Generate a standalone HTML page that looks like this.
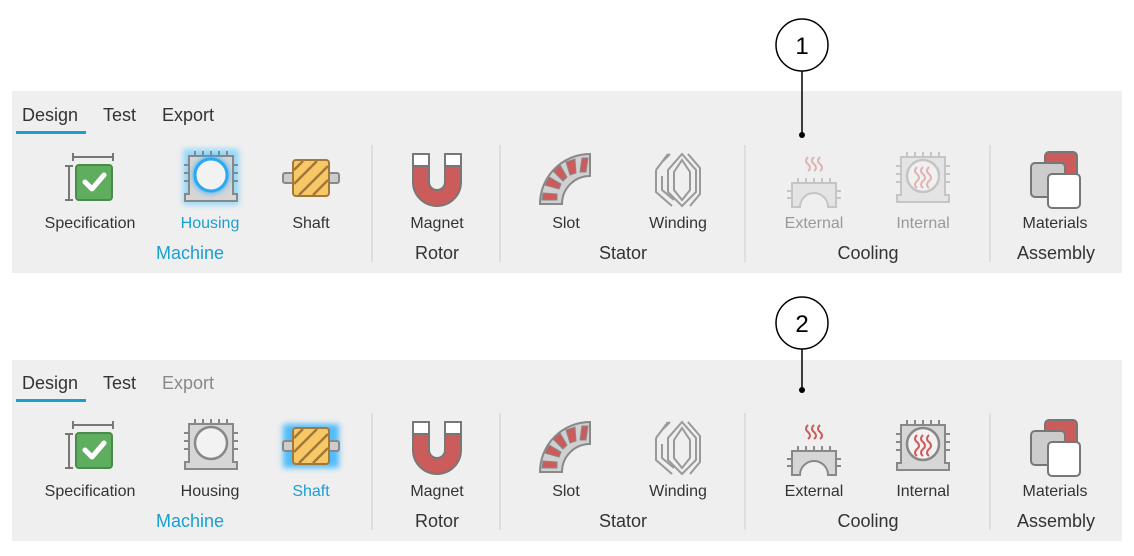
<!DOCTYPE html>
<html><head><meta charset="utf-8"><style>
html,body{margin:0;padding:0;background:#fff;}
svg{display:block;font-family:"Liberation Sans",sans-serif;}
</style></head><body>
<svg width="1134" height="556" viewBox="0 0 1134 556" xmlns="http://www.w3.org/2000/svg">
<defs>
<filter id="glow" x="-50%" y="-50%" width="200%" height="200%"><feGaussianBlur stdDeviation="3"/></filter>
<g id="spec">
  <line x1="-17" y1="-23" x2="23" y2="-23" stroke="#777" stroke-width="2"/>
  <line x1="-17" y1="-27" x2="-17" y2="-19" stroke="#777" stroke-width="2"/>
  <line x1="23" y1="-27" x2="23" y2="-19" stroke="#777" stroke-width="2"/>
  <line x1="-21" y1="-14" x2="-21" y2="20" stroke="#777" stroke-width="2"/>
  <line x1="-25" y1="-14" x2="-17" y2="-14" stroke="#777" stroke-width="2"/>
  <line x1="-25" y1="20" x2="-17" y2="20" stroke="#777" stroke-width="2"/>
  <rect x="-14" y="-15" width="36" height="35" rx="3" fill="#5fae5f" stroke="#4a8a4a" stroke-width="2"/>
  <path d="M-5 2 L2 9 L14 -5" fill="none" stroke="#fff" stroke-width="5" stroke-linecap="round" stroke-linejoin="round"/>
</g>
<g id="housingShape">
  <path d="M-22 -21 H22 V17 H26 V24 H-26 V17 H-22 Z" fill="#d6d6d6" stroke="#888" stroke-width="2"/>
  <g stroke="#888" stroke-width="2">
    <line x1="-16" y1="-21" x2="-16" y2="-26"/><line x1="-8" y1="-21" x2="-8" y2="-26"/><line x1="0" y1="-21" x2="0" y2="-26"/><line x1="8" y1="-21" x2="8" y2="-26"/><line x1="16" y1="-21" x2="16" y2="-26"/>
    <line x1="-22" y1="-12" x2="-27" y2="-12"/><line x1="-22" y1="-4" x2="-27" y2="-4"/><line x1="-22" y1="4" x2="-27" y2="4"/>
    <line x1="22" y1="-12" x2="27" y2="-12"/><line x1="22" y1="-4" x2="27" y2="-4"/><line x1="22" y1="4" x2="27" y2="4"/>
  </g>
</g>
<g id="housing">
  <use href="#housingShape"/>
  <circle cx="0" cy="-2" r="16" fill="#f2f2f2" stroke="#888" stroke-width="2.5"/>
</g>
<g id="shaft">
  <rect x="-28" y="-5" width="56" height="10" rx="2" fill="#ccc" stroke="#888" stroke-width="2"/>
  <rect x="-18" y="-18" width="36" height="36" rx="3" fill="#f8c866" stroke="#a07838" stroke-width="2"/>
  <g stroke="#a07838" stroke-width="2.5"><line x1="-17" y1="-8" x2="-8" y2="-17"/><line x1="-17" y1="6" x2="6" y2="-17"/><line x1="-12" y1="17" x2="17" y2="-12"/><line x1="2" y1="17" x2="17" y2="2"/></g>
</g>
<g id="magnet">
  <path d="M-24 -26 H-8 V2 A8 8 0 0 0 8 2 V-26 H24 V2 A24 24 0 0 1 -24 2 Z" fill="#cc5c5c" stroke="#777" stroke-width="2"/>
  <rect x="-24" y="-26" width="16" height="12" fill="#fff" stroke="#777" stroke-width="2"/>
  <rect x="8" y="-26" width="16" height="12" fill="#fff" stroke="#777" stroke-width="2"/>
</g>
<g id="slot">
  <path d="M-26 24 A50 50 0 0 1 24 -26 V-4 A28 28 0 0 0 -4 24 Z" fill="#d0d0d0" stroke="#888" stroke-width="2"/>
  <g fill="#cc5c5c" stroke="#888" stroke-width="1">
    <path d="M16 -22 L22 -22 L20 -8 L14 -8 Z"/><path d="M0 -18 L9 -21 L10 -7 L4 -5 Z"/><path d="M-13 -9 L-6 -15 L1 -3 L-3 1 Z"/><path d="M-21 5 L-17 -3 L-5 4 L-7 9 Z"/><path d="M-24 20 L-23 13 L-9 14 L-9 20 Z"/>
  </g>
</g>
<g id="winding" fill="none" stroke="#999" stroke-width="2">
  <path d="M-16 -18 L-8 -26 M-22 -10 L-10 -26 M-22 -10 V12 L-6 26 M-16 -4 V10 L-4 20"/>
  <path d="M4 -26 L18 -10 V12 L4 26 L-10 12 V-10 Z"/>
  <path d="M4 -20 L12 -8 V10 L4 20 L-4 10 V-8 Z"/>
  <path d="M10 -26 L22 -12 V14 L12 26"/>
</g>
<g id="external">
  <path d="M-22 0 H22 V24 H14 A14 14 0 0 0 -14 24 H-22 Z" fill="#d6d6d6" stroke="#888" stroke-width="2"/>
  <g stroke="#888" stroke-width="2"><line x1="-16" y1="0" x2="-16" y2="-5"/><line x1="-8" y1="0" x2="-8" y2="-5"/><line x1="0" y1="0" x2="0" y2="-5"/><line x1="8" y1="0" x2="8" y2="-5"/><line x1="16" y1="0" x2="16" y2="-5"/>
  <line x1="-22" y1="8" x2="-27" y2="8"/><line x1="-22" y1="15" x2="-27" y2="15"/><line x1="22" y1="8" x2="27" y2="8"/><line x1="22" y1="15" x2="27" y2="15"/></g>
  <g fill="none" stroke="#cc5c5c" stroke-width="2"><path d="M-6 -26 q-4 4 0 7 q4 4 0 7"/><path d="M0 -26 q-4 4 0 7 q4 4 0 7"/><path d="M6 -26 q-4 4 0 7 q4 4 0 7"/></g>
</g>
<g id="internal">
  <use href="#housingShape"/>
  <circle cx="0" cy="-2" r="16" fill="#f2f2f2" stroke="#888" stroke-width="2.5"/>
  <g fill="none" stroke="#cc5c5c" stroke-width="2"><path d="M-6 -11 q-4 4 0 7 q4 4 0 7 q-4 4 0 7"/><path d="M0 -11 q-4 4 0 7 q4 4 0 7 q-4 4 0 7"/><path d="M6 -11 q-4 4 0 7 q4 4 0 7 q-4 4 0 7"/></g>
</g>
<g id="materials">
  <rect x="-10" y="-28" width="32" height="36" rx="4" fill="#cc5c5c" stroke="#777" stroke-width="2"/>
  <rect x="-24" y="-17" width="34" height="34" rx="4" fill="#ccc" stroke="#777" stroke-width="2"/>
  <rect x="-7" y="-6" width="32" height="34" rx="4" fill="#fff" stroke="#777" stroke-width="2"/>
</g>
</defs>

<!-- Panel 1 -->
<g>
<rect x="12" y="91" width="1110" height="182" fill="#efefef"/>
<g font-size="18" fill="#333"><text x="22" y="121">Design</text><text x="103" y="121">Test</text><text x="162" y="121">Export</text></g>
<rect x="16" y="131" width="70" height="3" fill="#1a9fd0"/>
<g stroke="#ccc" stroke-width="1"><line x1="372" y1="145" x2="372" y2="262"/><line x1="500" y1="145" x2="500" y2="262"/><line x1="745" y1="145" x2="745" y2="262"/><line x1="990" y1="145" x2="990" y2="262"/></g>
<use href="#spec" x="90" y="180"/>
<g transform="translate(211,177)"><rect x="-28" y="-28" width="56" height="56" fill="#5ac8ff" filter="url(#glow)" opacity="0.6"/><use href="#housingShape"/><circle cx="0" cy="-2" r="18" fill="#2ab0ff" filter="url(#glow)"/><circle cx="0" cy="-2" r="16" fill="#f2f2f2" stroke="#2aa8f0" stroke-width="3"/></g>
<use href="#shaft" x="311" y="178"/>
<use href="#magnet" x="437" y="180"/>
<use href="#slot" x="566" y="180"/>
<use href="#winding" x="678" y="180"/>
<use href="#external" x="814" y="183" opacity="0.4"/>
<use href="#internal" x="923" y="178" opacity="0.4"/>
<use href="#materials" x="1055" y="180"/>
<g font-size="16" text-anchor="middle" fill="#333">
<text x="90" y="228">Specification</text><text x="210" y="228" fill="#1a9fd0">Housing</text><text x="311" y="228">Shaft</text>
<text x="437" y="228">Magnet</text><text x="566" y="228">Slot</text><text x="678" y="228">Winding</text>
<text x="814" y="228" fill="#999">External</text><text x="923" y="228" fill="#999">Internal</text><text x="1055" y="228">Materials</text>
</g>
<g font-size="18" text-anchor="middle" fill="#333">
<text x="190" y="259" fill="#1a9fd0">Machine</text><text x="437" y="259">Rotor</text><text x="623" y="259">Stator</text><text x="868" y="259">Cooling</text><text x="1056" y="259">Assembly</text>
</g>
</g>

<!-- Panel 2 -->
<g transform="translate(0,268)">
<rect x="12" y="92" width="1110" height="181" fill="#efefef"/>
<g font-size="18" fill="#333"><text x="22" y="121">Design</text><text x="103" y="121">Test</text><text x="162" y="121" fill="#888">Export</text></g>
<rect x="16" y="131" width="70" height="3" fill="#1a9fd0"/>
<g stroke="#ccc" stroke-width="1"><line x1="372" y1="145" x2="372" y2="262"/><line x1="500" y1="145" x2="500" y2="262"/><line x1="745" y1="145" x2="745" y2="262"/><line x1="990" y1="145" x2="990" y2="262"/></g>
<use href="#spec" x="90" y="180"/>
<use href="#housing" x="211" y="177"/>
<g transform="translate(311,178)"><rect x="-28" y="-22" width="56" height="44" fill="#2ab0ff" filter="url(#glow)" opacity="0.8"/><use href="#shaft"/></g>
<use href="#magnet" x="437" y="180"/>
<use href="#slot" x="566" y="180"/>
<use href="#winding" x="678" y="180"/>
<use href="#external" x="814" y="183"/>
<use href="#internal" x="923" y="178"/>
<use href="#materials" x="1055" y="180"/>
<g font-size="16" text-anchor="middle" fill="#333">
<text x="90" y="228">Specification</text><text x="210" y="228">Housing</text><text x="311" y="228" fill="#1a9fd0">Shaft</text>
<text x="437" y="228">Magnet</text><text x="566" y="228">Slot</text><text x="678" y="228">Winding</text>
<text x="814" y="228">External</text><text x="923" y="228">Internal</text><text x="1055" y="228">Materials</text>
</g>
<g font-size="18" text-anchor="middle" fill="#333">
<text x="190" y="259" fill="#1a9fd0">Machine</text><text x="437" y="259">Rotor</text><text x="623" y="259">Stator</text><text x="868" y="259">Cooling</text><text x="1056" y="259">Assembly</text>
</g>
</g>

<!-- callouts (on top) -->
<circle cx="802" cy="45" r="26" fill="#fff" stroke="#000" stroke-width="1.5"/>
<text x="802" y="54" font-size="24" text-anchor="middle">1</text>
<line x1="802" y1="71" x2="802" y2="135" stroke="#000" stroke-width="1.5"/>
<circle cx="802" cy="135" r="3" fill="#000"/>
<circle cx="802" cy="323" r="26" fill="#fff" stroke="#000" stroke-width="1.5"/>
<text x="802" y="332" font-size="24" text-anchor="middle">2</text>
<line x1="802" y1="349" x2="802" y2="390" stroke="#000" stroke-width="1.5"/>
<circle cx="802" cy="390" r="3" fill="#000"/>
</svg>
</body></html>
